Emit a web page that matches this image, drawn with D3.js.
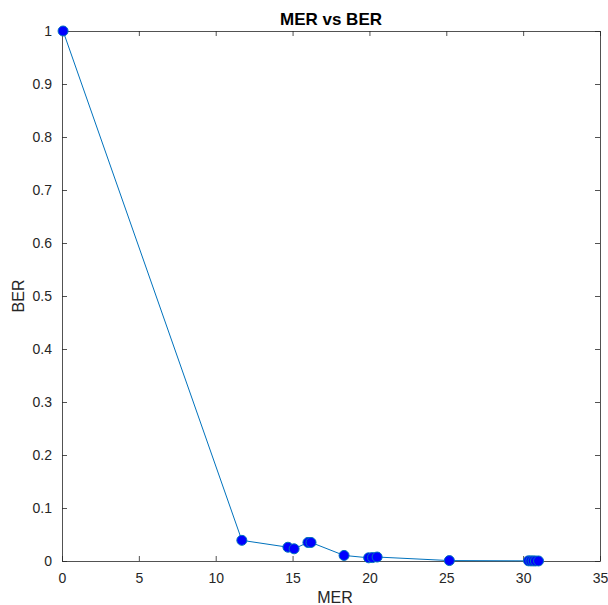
<!DOCTYPE html>
<meta charset="utf-8">
<head>
<script src="https://d3js.org/d3.v7.min.js"></script>
<style>
  body { margin: 0; background: #fff; }
  text { font-family: "Liberation Sans", Arial, sans-serif; fill: #262626; }
</style>
</head>
<body>
<svg id="chart" width="608" height="605"></svg>
<script>
// values
var mer = [0.07, 11.7, 14.7, 15.1, 16.0, 16.2, 18.35, 19.95, 20.2, 20.5, 25.2, 30.35, 30.5, 30.65, 30.8, 31.0];
var ber = [1, 0.039, 0.026, 0.023, 0.035, 0.035, 0.0105, 0.006, 0.0065, 0.0075, 0.0008, 0.0003, 0.0002, 0.0002, 0.0001, 0.0001];
var xTicks = [0, 5, 10, 15, 20, 25, 30, 35];
var yTicks = [0, 0.1, 0.2, 0.3, 0.4, 0.5, 0.6, 0.7, 0.8, 0.9, 1];

var svg = d3.select("#chart");
var plotLeft = 62, plotRight = 600, plotTop = 31, plotBottom = 561;

var x = d3.scaleLinear().domain([0, 35]).range([plotLeft, plotRight]);
var y = d3.scaleLinear().domain([0, 1]).range([plotBottom, plotTop]);

var axisColor = "#262626";

// box with inward ticks on all four sides
function styleAxis(g) {
  g.select(".domain").attr("stroke", axisColor).attr("stroke-width", 0.8);
  g.selectAll(".tick line").attr("stroke", axisColor).attr("stroke-width", 0.8);
  g.selectAll("text").style("font-size", "14px").attr("fill", axisColor);
}

svg.append("g")
  .attr("transform", "translate(0," + plotBottom + ")")
  .call(d3.axisBottom(x).tickValues(xTicks).tickSizeInner(-5).tickSizeOuter(0).tickPadding(12).tickFormat(d3.format("d")))
  .call(styleAxis);
svg.append("g")
  .attr("transform", "translate(0," + plotTop + ")")
  .call(d3.axisTop(x).tickValues(xTicks).tickSizeInner(-5).tickSizeOuter(0).tickFormat(""))
  .call(styleAxis);
svg.append("g")
  .attr("transform", "translate(" + plotLeft + ",0)")
  .call(d3.axisLeft(y).tickValues(yTicks).tickSizeInner(-5).tickSizeOuter(0).tickPadding(10).tickFormat(function(d) { return d === 0 || d === 1 ? d3.format("d")(d) : d3.format(".1f")(d); }))
  .call(styleAxis);
svg.append("g")
  .attr("transform", "translate(" + plotRight + ",0)")
  .call(d3.axisRight(y).tickValues(yTicks).tickSizeInner(-5).tickSizeOuter(0).tickFormat(""))
  .call(styleAxis);

// line
var pts = mer.map(function(m, i) { return [m, ber[i]]; });
svg.append("path")
  .datum(pts)
  .attr("fill", "none")
  .attr("stroke", "#0072BD")
  .attr("stroke-width", 1)
  .attr("d", d3.line().x(function(d) { return x(d[0]); }).y(function(d) { return y(d[1]); }));

// markers
svg.append("g")
  .selectAll("circle")
  .data(pts)
  .enter()
  .append("circle")
    .attr("cx", function(d) { return x(d[0]); })
    .attr("cy", function(d) { return y(d[1]); })
    .attr("r", 5)
    .attr("fill", "#0000ff")
    .attr("stroke", "#0072BD")
    .attr("stroke-width", 1);

// title and labels
svg.append("text")
  .attr("x", (plotLeft + plotRight) / 2)
  .attr("y", 25)
  .attr("text-anchor", "middle")
  .style("font-size", "17px")
  .style("font-weight", "bold")
  .style("fill", "#000")
  .text("MER vs BER");

svg.append("text")
  .attr("x", (plotLeft + plotRight) / 2 + 4)
  .attr("y", 603)
  .attr("text-anchor", "middle")
  .style("font-size", "16px")
  .text("MER");

svg.append("text")
  .attr("transform", "translate(24," + ((plotTop + plotBottom) / 2) + ") rotate(-90)")
  .attr("text-anchor", "middle")
  .style("font-size", "16px")
  .text("BER");
</script>
</body>
</html>
